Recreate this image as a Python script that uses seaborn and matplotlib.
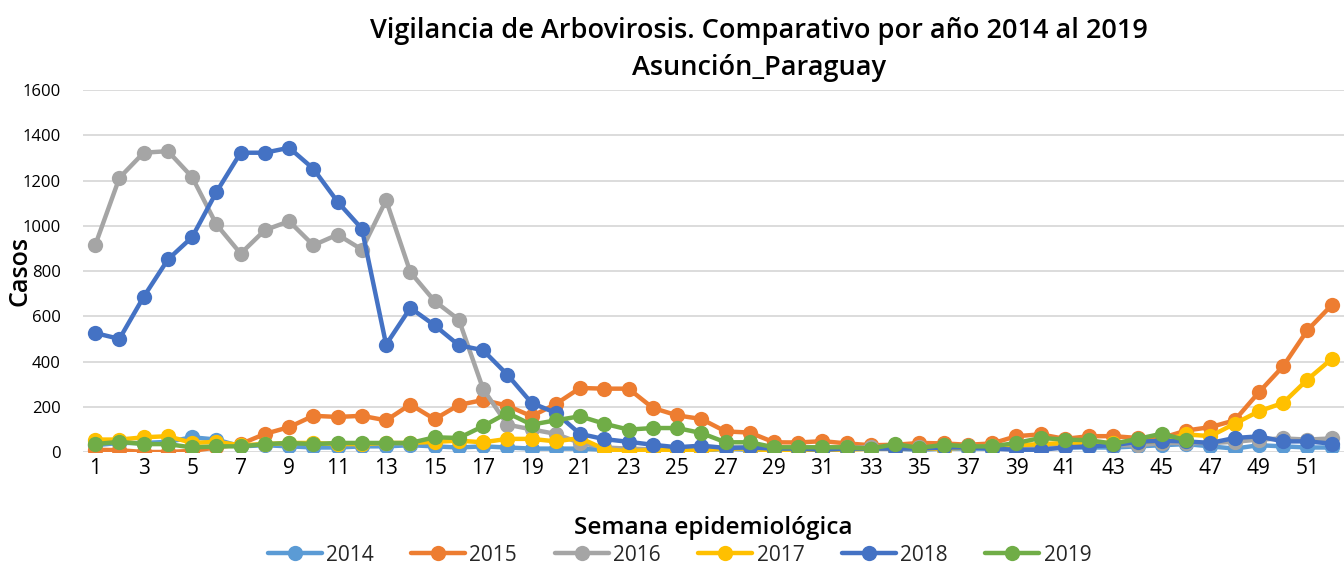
import matplotlib
matplotlib.use("Agg")
import matplotlib.pyplot as plt
import seaborn as sns
import pandas as pd

weeks = list(range(1, 53))

cases_2014 = [30, 40, 40, 45, 65, 55, 25, 30, 25, 20, 20, 25, 25, 30, 25, 20, 25, 20, 15, 15,
              15, 10, 0, 5, 5, 5, 15, 10, 10, 5, 10, 15, 15, 15, 10, 15, 15, 15, 15, 20,
              20, 20, 20, 25, 30, 35, 25, 15, 30, 25, 20, 20]
cases_2015 = [10, 8, 0, 0, 5, 20, 35, 80, 110, 160, 155, 160, 140, 210, 145, 208, 230, 205, 158, 212,
              283, 280, 280, 195, 162, 146, 91, 86, 43, 42, 48, 38, 30, 32, 40, 38, 32, 38, 70, 78,
              58, 70, 70, 62, 62, 95, 110, 140, 264, 379, 538, 649]
cases_2016 = [914, 1212, 1323, 1330, 1215, 1006, 877, 981, 1020, 914, 961, 895, 1113, 795, 667, 585, 279, 121, 100, 80,
              40, 20, 15, 12, 10, 10, 20, 20, 15, 15, 15, 20, 20, 25, 20, 25, 25, 25, 20, 25,
              30, 30, 30, 30, 40, 40, 40, 45, 55, 60, 55, 60]
cases_2017 = [55, 55, 65, 70, 40, 45, 30, 35, 40, 40, 35, 35, 40, 40, 45, 50, 43, 58, 58, 47,
              62, 13, 3, 10, 8, 8, 15, 15, 5, 5, 5, 10, 15, 15, 15, 15, 20, 25, 30, 35,
              40, 40, 40, 45, 50, 78, 70, 125, 180, 217, 320, 411]
cases_2018 = [526, 500, 686, 851, 950, 1149, 1323, 1323, 1345, 1252, 1106, 987, 475, 637, 560, 472, 450, 342, 217, 173,
              80, 57, 45, 32, 21, 28, 18, 20, 15, 15, 10, 15, 15, 15, 15, 20, 20, 15, 10, 10,
              20, 25, 30, 45, 50, 47, 40, 62, 69, 47, 47, 37]
cases_2019 = [35, 45, 35, 35, 20, 25, 25, 35, 40, 35, 40, 40, 40, 40, 65, 62, 114, 173, 121, 140,
              158, 125, 99, 106, 106, 84, 43, 43, 21, 21, 21, 21, 15, 35, 18, 32, 25, 25, 40, 62,
              55, 52, 37, 58, 81, 52] + [None] * 6

years = ["2014", "2015", "2016", "2017", "2018", "2019"]
series = [cases_2014, cases_2015, cases_2016, cases_2017, cases_2018, cases_2019]
colors = ["#5B9BD5", "#ED7D31", "#A5A5A5", "#FFC000", "#4472C4", "#70AD47"]

sns.set_style("white")
plt.rcParams["font.family"] = ["Open Sans", "DejaVu Sans"]

fig = plt.figure(figsize=(13.44, 5.70), dpi=100)
ax = fig.add_axes([0.0618, 0.207, 0.938, 0.635])

for year, vals, color in zip(years, series, colors):
    df = pd.DataFrame({"semana": weeks, "casos": vals}).dropna()
    sns.lineplot(data=df, x="semana", y="casos", ax=ax, color=color, linewidth=3.2,
                 marker="o", markersize=11, markeredgewidth=0, label=year)

ax.set_xlim(0.5, 52.5)
ax.set_ylim(0, 1600)
ax.set_yticks(range(0, 1601, 200))
ax.set_xticks(range(1, 53, 2))
ax.tick_params(axis="y", labelsize=12, length=0, pad=16, labelcolor="black")
ax.tick_params(axis="x", labelsize=15, length=0, pad=4, labelcolor="black")
ax.grid(axis="y", color="#D9D9D9", linewidth=1.3)
ax.set_axisbelow(True)
for s in ax.spines.values():
    s.set_visible(False)

ax.set_xlabel("Semana epidemiológica", fontsize=17.5, fontweight="semibold", color="black")
ax.xaxis.set_label_coords(0.5, -0.178)
ax.set_ylabel("Casos", fontsize=18, fontweight="semibold", color="black")
ax.yaxis.set_label_coords(-0.040, 0.5)
fig.suptitle("Vigilancia de Arbovirosis. Comparativo por año 2014 al 2019\nAsunción_Paraguay",
             fontsize=19.5, fontweight="semibold", color="black", y=0.97, x=0.565, linespacing=1.42)

ax.legend(loc="center", bbox_to_anchor=(0.473, -0.285), ncol=6, frameon=False,
          fontsize=15, handlelength=2.6, columnspacing=1.8, handletextpad=0.2)

fig.savefig("out.png", dpi=100)
